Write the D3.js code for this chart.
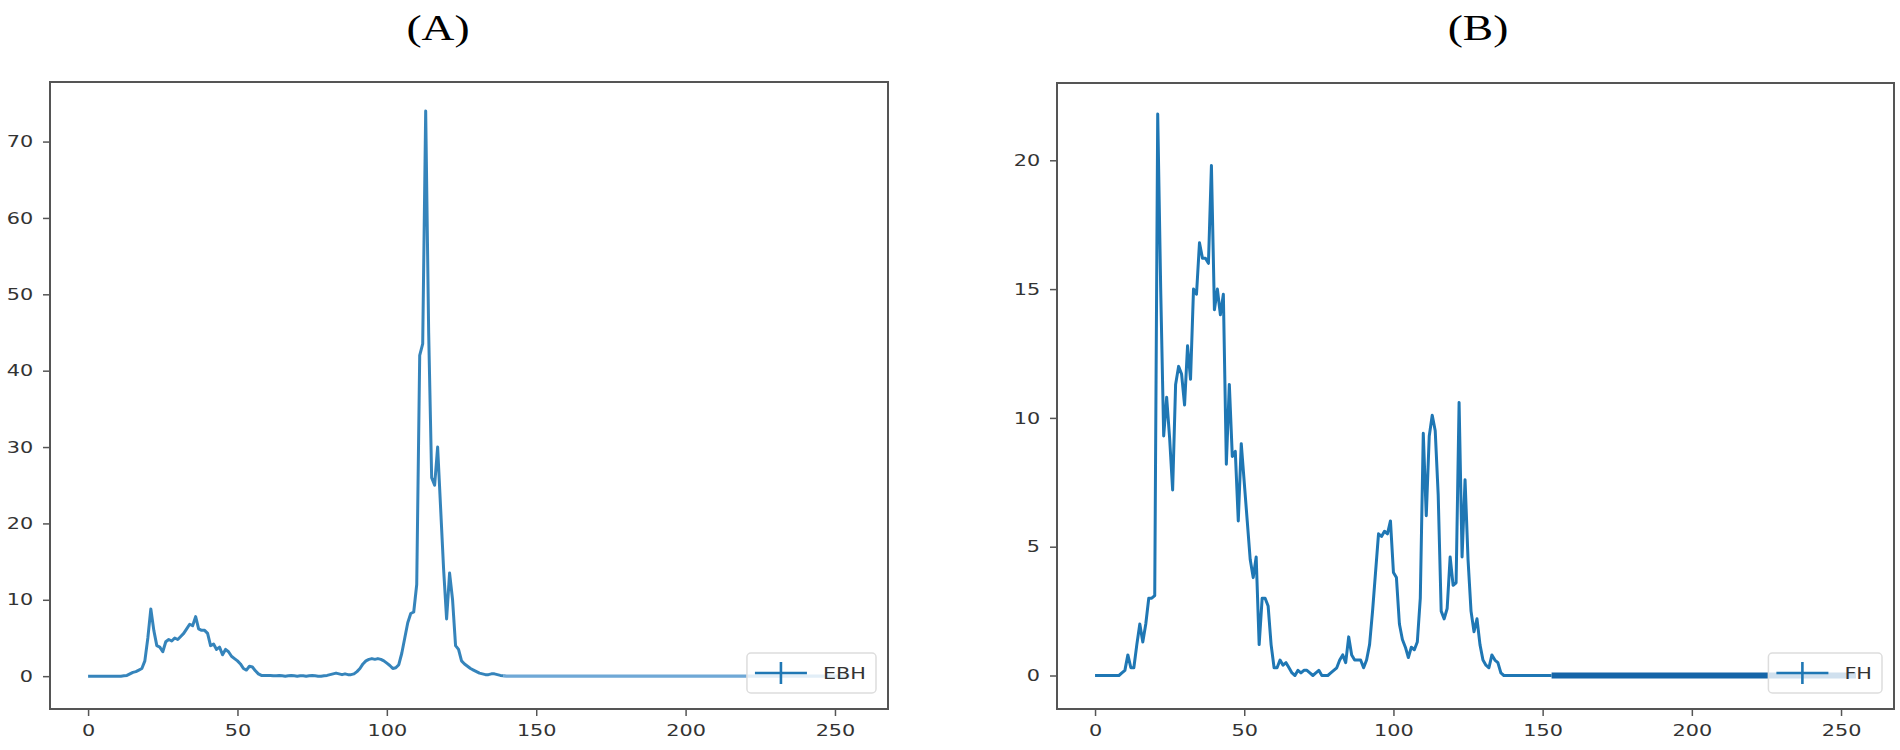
<!DOCTYPE html>
<html lang="en">
<head>
<meta charset="utf-8">
<title>EBH / FH histograms</title>
<script src="https://cdn.jsdelivr.net/npm/d3@7"></script>
<style>
  body { margin: 0; background: #fff; }
  .tick text { font-family: "DejaVu Sans", sans-serif; font-size: 16px; fill: #333; }
  .tick line { stroke: #555; stroke-width: 1.5px; }
  .domain { display: none; }
  .title { font-family: "Liberation Serif", "Times New Roman", serif; font-size: 35px; fill: #000; }
  .legend text { font-family: "DejaVu Sans", sans-serif; font-size: 16px; fill: #333; }
</style>
</head>
<body>
<div id="chart"></div>
<script>
// x positions are the bin index 0..255
var xTicks = [0, 50, 100, 150, 200, 250];
var ebhTicks = [0, 10, 20, 30, 40, 50, 60, 70];
var fhTicks = [0, 5, 10, 15, 20];

// panel (A) - EBH
var ebh = [
  0, 0, 0, 0, 0, 0, 0, 0, 0, 0,
  0, 0, 0.05, 0.1, 0.3, 0.5, 0.6, 0.8, 1.0, 2.0,
  5.0, 8.8, 6.0, 4.0, 3.8, 3.2, 4.5, 4.8, 4.6, 5.0,
  4.8, 5.2, 5.6, 6.2, 6.8, 6.6, 7.8, 6.2, 6.0, 6.0,
  5.6, 4.0, 4.2, 3.5, 3.8, 2.8, 3.5, 3.2, 2.6, 2.3,
  2.0, 1.6, 1.0, 0.8, 1.3, 1.2, 0.7, 0.3, 0.1, 0.1,
  0.1, 0.1, 0.05, 0.05, 0.1, 0.05, 0, 0.05, 0.1, 0.05,
  0, 0.05, 0.05, 0, 0.05, 0.1, 0.05, 0, 0, 0.05,
  0.1, 0.2, 0.3, 0.4, 0.3, 0.2, 0.3, 0.2, 0.2, 0.3,
  0.6, 1.0, 1.6, 2.0, 2.2, 2.3, 2.2, 2.3, 2.2, 2.0,
  1.7, 1.4, 1.0, 1.1, 1.5, 3.0, 5.0, 7.0, 8.2, 8.4,
  12, 42, 43.5, 74, 45, 26, 25, 30, 22, 14,
  7.5, 13.5, 10, 4, 3.5, 2.0, 1.6, 1.3, 1.0, 0.8,
  0.6, 0.4, 0.3, 0.2, 0.2, 0.3, 0.3, 0.2, 0.1, 0.05,
  0, 0, 0, 0, 0, 0, 0, 0, 0, 0,
  0, 0, 0, 0, 0, 0, 0, 0, 0, 0,
  0, 0, 0, 0, 0, 0, 0, 0, 0, 0,
  0, 0, 0, 0, 0, 0, 0, 0, 0, 0,
  0, 0, 0, 0, 0, 0, 0, 0, 0, 0,
  0, 0, 0, 0, 0, 0, 0, 0, 0, 0,
  0, 0, 0, 0, 0, 0, 0, 0, 0, 0,
  0, 0, 0, 0, 0, 0, 0, 0, 0, 0,
  0, 0, 0, 0, 0, 0, 0, 0, 0, 0,
  0, 0, 0, 0, 0, 0, 0, 0, 0, 0,
  0, 0, 0, 0, 0, 0, 0, 0, 0, 0,
  0, 0, 0, 0, 0, 0
];

// panel (B) - FH
var fh = [
  0, 0, 0, 0, 0, 0, 0, 0, 0, 0.1,
  0.2, 0.8, 0.3, 0.3, 1.2, 2.0, 1.3, 2.0, 3.0, 3.0,
  3.1, 21.8, 15, 9.3, 10.8, 9.2, 7.2, 11.3, 12, 11.7,
  10.5, 12.8, 11.5, 15, 14.8, 16.8, 16.2, 16.2, 16, 19.8,
  14.2, 15, 14, 14.8, 8.2, 11.3, 8.5, 8.7, 6, 9,
  7.5, 6, 4.5, 3.8, 4.6, 1.2, 3, 3, 2.7, 1.2,
  0.3, 0.3, 0.6, 0.4, 0.5, 0.3, 0.1, 0, 0.2, 0.1,
  0.2, 0.2, 0.1, 0, 0.1, 0.2, 0, 0, 0, 0.1,
  0.2, 0.3, 0.6, 0.8, 0.5, 1.5, 0.8, 0.6, 0.6, 0.6,
  0.3, 0.6, 1.2, 2.5, 4, 5.5, 5.4, 5.6, 5.5, 6,
  4, 3.8, 2, 1.4, 1.1, 0.7, 1.1, 1, 1.3, 3,
  9.4, 6.2, 9.3, 10.1, 9.5, 7, 2.5, 2.2, 2.6, 4.6,
  3.5, 3.6, 10.6, 4.6, 7.6, 4.5, 2.5, 1.7, 2.2, 1.2,
  0.6, 0.4, 0.3, 0.8, 0.6, 0.5, 0.1, 0, 0, 0,
  0, 0, 0, 0, 0, 0, 0, 0, 0, 0,
  0, 0, 0, 0, 0, 0, 0, 0, 0, 0,
  0, 0, 0, 0, 0, 0, 0, 0, 0, 0,
  0, 0, 0, 0, 0, 0, 0, 0, 0, 0,
  0, 0, 0, 0, 0, 0, 0, 0, 0, 0,
  0, 0, 0, 0, 0, 0, 0, 0, 0, 0,
  0, 0, 0, 0, 0, 0, 0, 0, 0, 0,
  0, 0, 0, 0, 0, 0, 0, 0, 0, 0,
  0, 0, 0, 0, 0, 0, 0, 0, 0, 0,
  0, 0, 0, 0, 0, 0, 0, 0, 0, 0,
  0, 0, 0, 0, 0, 0, 0, 0, 0, 0,
  0, 0, 0, 0, 0, 0
];

var width = 1900, height = 750;
var stretch = 1.3;   // the source picture is stretched sideways
var blue = "#1f77b4";

var svg = d3.select("#chart").append("svg")
  .attr("width", width)
  .attr("height", height);

function panel(p) {
  var x = d3.scaleLinear().domain([-12.75, 267.75]).range([p.left, p.right]);
  var y = d3.scaleLinear().domain(p.yDomain).range([p.bottom, p.top]);
  var g = svg.append("g");

  // axes
  var ax = g.append("g")
    .attr("transform", "translate(0," + p.bottom + ")")
    .call(d3.axisBottom(x).tickValues(xTicks).tickSize(7).tickPadding(9));
  ax.selectAll(".tick text").attr("transform", "scale(" + stretch + ",1)");

  var ay = g.append("g")
    .attr("transform", "translate(" + p.left + ",0)")
    .call(d3.axisLeft(y).tickValues(p.ticks).tickSize(7).tickPadding(6));
  ay.selectAll(".tick text").attr("x", -13).attr("transform", "scale(" + stretch + ",1)");

  // data line, the flat tail is drawn on its own
  var line = d3.line()
    .y(function (d) { return y(d); });

  var main = p.values.slice(0, p.tailStart + 1);
  var tail = p.values.slice(p.tailStart);

  g.append("path")
    .datum(tail)
    .attr("d", line.x(function (d, i) { return x(i + p.tailStart); }))
    .attr("fill", "none")
    .attr("stroke", p.tailColor)
    .attr("stroke-width", p.tailWidth);

  g.append("path")
    .datum(main)
    .attr("d", line.x(function (d, i) { return x(i); }))
    .attr("fill", "none")
    .attr("stroke", blue)
    .attr("stroke-width", 3)
    .attr("stroke-opacity", p.opacity)
    .attr("stroke-linejoin", "round");

  // frame
  g.append("rect")
    .attr("x", p.left).attr("y", p.top)
    .attr("width", p.right - p.left).attr("height", p.bottom - p.top)
    .attr("fill", "none").attr("stroke", "#555").attr("stroke-width", 2);

  // legend
  var lg = g.append("g").attr("class", "legend");
  var box = lg.append("rect");
  var lbl = lg.append("text").text(p.label);
  var tw = lbl.node().getComputedTextLength() * stretch;
  var bw = 8 + 52 + 16 + tw + 10, bh = 40;
  var bx = p.right - 12 - bw, by = p.bottom - 16 - bh, cy = by + bh / 2;
  box.attr("x", bx).attr("y", by).attr("width", bw).attr("height", bh)
    .attr("rx", 4).attr("fill", "#fff").attr("fill-opacity", 0.8)
    .attr("stroke", "#ddd").attr("stroke-width", 1.5);
  lg.append("line")
    .attr("x1", bx + 8).attr("x2", bx + 60).attr("y1", cy).attr("y2", cy)
    .attr("stroke", blue).attr("stroke-width", 2.6);
  lg.append("line")
    .attr("x1", bx + 34).attr("x2", bx + 34).attr("y1", cy - 11).attr("y2", cy + 11)
    .attr("stroke", blue).attr("stroke-width", 2.6);
  lbl.attr("transform", "translate(" + (bx + 76) + "," + (cy + 6) + ") scale(" + stretch + ",1)");
  lbl.raise();

  // panel title
  svg.append("text")
    .attr("class", "title")
    .attr("text-anchor", "middle")
    .attr("transform", "translate(" + p.titleX + ",40) scale(" + stretch + ",1)")
    .text(p.title);
}

panel({
  values: ebh, label: "EBH", title: "(A)", titleX: 438,
  left: 50, right: 888, top: 82, bottom: 709,
  yDomain: [-4.3, 77.8], ticks: ebhTicks,
  tailStart: 139, tailColor: "#6fa8d6", tailWidth: 3.4, opacity: 0.9
});

panel({
  values: fh, label: "FH", title: "(B)", titleX: 1478,
  left: 1057, right: 1894, top: 83, bottom: 709,
  yDomain: [-1.3, 23.0], ticks: fhTicks,
  tailStart: 153, tailColor: "#1565a8", tailWidth: 6, opacity: 1
});
</script>
</body>
</html>
